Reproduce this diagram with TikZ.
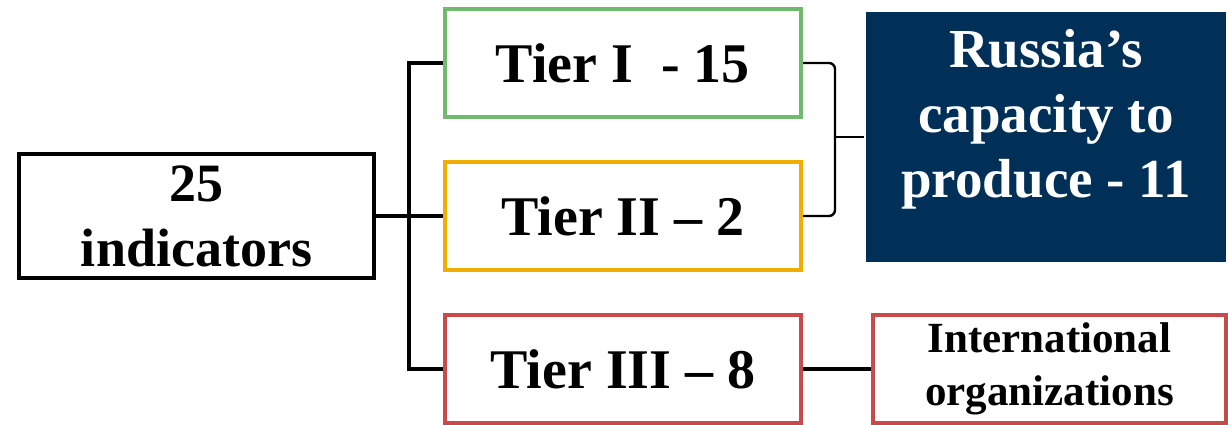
\documentclass[tikz,border=0pt]{standalone}
\usepackage{fontspec}
\setmainfont{Liberation Serif}
\usetikzlibrary{positioning}
\definecolor{tiergreen}{RGB}{112,185,111}
\definecolor{tierorange}{RGB}{242,174,0}
\definecolor{tierred}{RGB}{200,75,75}
\definecolor{navy}{RGB}{0,48,87}
\tikzset{every node/.style={align=center}}
\tikzset{box/.style={draw, line width=2pt, inner sep=0pt, font=\bfseries}}
\tikzset{link/.style={line width=2pt, black}}
\tikzset{thinlink/.style={line width=1.2pt, black, rounded corners=3pt}}
\newcommand{\tierfont}{\fontsize{28}{32.5}\selectfont}

\begin{document}
\begin{tikzpicture}[x=0.5pt, y=-0.5pt]
	
	% Frame
	\useasboundingbox (0,0) rectangle (1228,424);
	
	% Coordinates
	\coordinate (bus) at (409,216);
	\coordinate (brk) at (835,137);
	
	% Boxes
	\node[box, minimum width=177.5pt, minimum height=62pt, font=\bfseries\fontsize{27}{32.5}\selectfont] (ind) at (196.5,216) {25\\indicators};
	\node[box, tiergreen, text=black, minimum width=178pt, minimum height=54pt, font=\bfseries\tierfont] (tierI) at (623,63) {Tier I\ \ - 15};
	\node[box, tierorange, text=black, minimum width=178pt, minimum height=54pt, font=\bfseries\tierfont] (tierII) at (623,216) {Tier II – 2};
	\node[box, tierred, text=black, minimum width=178pt, minimum height=54pt, font=\bfseries\tierfont] (tierIII) at (623,369) {Tier III – 8};
	\node[box, draw=none, fill=navy, text=white, minimum width=180pt, minimum height=125pt, font=\bfseries\fontsize{27.5}{32.5}\selectfont] (russia) at (1046,137) {Russia’s\\capacity to\\produce - 11\\[-9pt]\mbox{}};
	\node[box, tierred, text=black, minimum width=176.5pt, minimum height=54pt, font=\bfseries\fontsize{21.5}{26.5}\selectfont] (intl) at (1049.5,369) {International\\organizations};
	
	% Links
	\draw[link] (ind.east) -- (tierII.west);
	\draw[link] (tierI.west) -| (bus) |- (tierIII.west);
	\draw[link] (tierIII.east) -- (intl.west);
	
	% Bracket
	\draw[thinlink] (tierI.east) -| (brk) |- (tierII.east);
	\draw[thinlink] (brk) -- (russia.west);
	
\end{tikzpicture}
\end{document}
